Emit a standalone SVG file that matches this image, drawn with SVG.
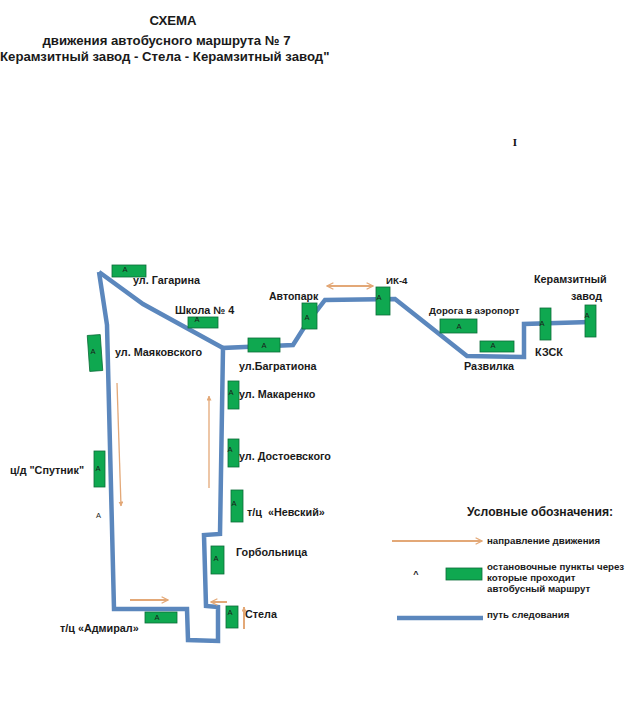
<svg xmlns="http://www.w3.org/2000/svg" width="635" height="703" viewBox="0 0 635 703">
<style>
text{font-family:"Liberation Sans",Arial,sans-serif;fill:#1a1a1a}
.t{font-weight:bold;font-size:13.2px}
.h{font-weight:bold;font-size:12.2px}
.l{font-weight:bold;font-size:10.8px}
.s{font-weight:bold;font-size:9.7px}
.a{font-size:7.500px;text-anchor:middle;fill:#1a1a1a}
.g{fill:#0fa850;stroke:#0b6b38;stroke-width:.8}
.r{fill:none;stroke:#5b87bd;stroke-width:4.500;stroke-linejoin:miter}
.o{fill:none;stroke:#e3a877;stroke-width:2}
.ot{fill:none;stroke:#e3a877;stroke-width:1.300}
</style>
<defs>
<marker id="h" viewBox="0 0 10 10" refX="9" refY="5" markerWidth="8" markerHeight="8" markerUnits="userSpaceOnUse" orient="auto-start-reverse"><path d="M1 1L9 5L1 9" fill="none" stroke="#e3a877" stroke-width="1.6"/></marker>
<marker id="n" viewBox="0 0 10 10" refX="9" refY="5" markerWidth="5" markerHeight="5" markerUnits="userSpaceOnUse" orient="auto"><path d="M0 0L10 5L0 10Z" fill="#e3a877"/></marker>
</defs>
<rect width="635" height="703" fill="#fff"/>
<g id="title">
<text class="t" x="173" y="25" text-anchor="middle">СХЕМА</text>
<text class="t" x="166.500" y="45" text-anchor="middle">движения автобусного маршрута № 7</text>
<text class="t" x="0" y="61">Керамзитный завод - Стела - Керамзитный завод"</text>
<text x="515" y="146" style="font-family:'Liberation Serif',serif;font-size:11px;font-weight:bold;fill:#111" text-anchor="middle">I</text>
</g>
<g id="connectors">
<path class="r" d="M99 272L107 325L114 609H187L188 640L218 641V607L206 606L204 535L220 534L223 348L293 345L305 326L325 300L395 299L467 356L524 357V324L590 322"/>
<path class="r" d="M99 272L143 304L223 348"/>
<path class="ot" marker-end="url(#n)" d="M117 383L121 506"/>
<path class="ot" marker-end="url(#n)" d="M209 488V396"/>
<path class="o" marker-end="url(#h)" d="M130 600H168"/>
<path class="o" marker-end="url(#h)" d="M227 602H211"/>
<path class="o" marker-end="url(#n)" d="M244 629V607"/>
<path class="o" marker-start="url(#h)" marker-end="url(#h)" d="M327 286H373"/>
</g>
<g id="stop-gagarina"><rect class="g" x="112" y="265" width="34" height="12"/><text class="a" x="125" y="272">A</text><text class="l" x="133" y="284">ул. Гагарина</text></g>
<g id="stop-school"><rect class="g" x="188" y="317" width="30" height="11"/><text class="a" x="197" y="322">A</text><text class="l" x="175" y="314">Школа № 4</text></g>
<g id="stop-mayakovsky"><rect class="g" x="88.500" y="335" width="13" height="36" transform="rotate(-4 95 353)"/><text class="a" x="93" y="354">A</text><text class="l" x="115" y="356">ул. Маяковского</text></g>
<g id="stop-bagrationa"><rect class="g" x="248" y="338" width="32" height="14"/><text class="a" x="264" y="348">A</text><text class="l" x="239" y="370">ул.Багратиона</text></g>
<g id="stop-makarenko"><rect class="g" x="228" y="381" width="11" height="28"/><text class="a" x="231" y="395">A</text><text class="l" x="239" y="398">ул. Макаренко</text></g>
<g id="stop-avtopark"><rect class="g" x="302" y="303" width="15" height="26"/><text class="a" x="307" y="320">A</text><text class="l" x="269" y="300" style="font-size:10.500px">Автопарк</text></g>
<g id="stop-ik4"><rect class="g" x="376" y="287" width="14" height="28"/><text class="a" x="379" y="300">A</text><text class="s" x="386" y="284">ИК-4</text></g>
<g id="stop-airport"><rect class="g" x="440" y="319" width="37" height="14"/><text class="a" x="459" y="329">A</text><text class="s" x="429" y="314">Дорога в аэропорт</text></g>
<g id="stop-razvilka"><rect class="g" x="480" y="341" width="34" height="11"/><text class="a" x="493" y="348">A</text><text class="l" x="464" y="370">Развилка</text></g>
<g id="stop-kzsk"><rect class="g" x="540" y="308" width="11" height="32"/><text class="a" x="542" y="326">A</text><text class="l" x="535" y="356">КЗСК</text></g>
<g id="stop-zavod"><rect class="g" x="585" y="305" width="11" height="32"/><text class="a" x="587" y="318">A</text><text class="l" x="534" y="283">Керамзитный</text><text class="l" x="571" y="300">завод</text></g>
<g id="stop-sputnik"><rect class="g" x="94" y="451" width="11" height="36"/><text class="a" x="98" y="471">A</text><text class="l" x="10" y="474">ц/д "Спутник"</text><text class="a" x="98.500" y="518">A</text></g>
<g id="stop-dostoevsky"><rect class="g" x="228" y="439" width="11" height="28"/><text class="a" x="230" y="452">A</text><text class="l" x="239" y="460">ул. Достоевского</text></g>
<g id="stop-nevsky"><rect class="g" x="231" y="490" width="12" height="32"/><text class="a" x="234" y="506">A</text><text class="l" x="247" y="516">т/ц &#160;«Невский»</text></g>
<g id="stop-gorbolnitsa"><rect class="g" x="211" y="546" width="13" height="28"/><text class="a" x="216" y="561">A</text><text class="l" x="236" y="556">Горбольница</text></g>
<g id="stop-stela"><rect class="g" x="226" y="606" width="12" height="22"/><text class="a" x="230" y="615">A</text><text class="l" x="245" y="618">Стела</text></g>
<g id="stop-admiral"><rect class="g" x="145" y="612" width="32" height="11"/><text class="a" x="157" y="620">A</text><text class="l" x="60" y="632">т/ц «Адмирал»</text></g>
<g id="legend">
<text class="h" x="467" y="516">Условные обозначения:</text>
<path class="o" marker-end="url(#h)" d="M392 541H482"/>
<text class="s" x="487" y="544">направление движения</text>
<text x="416" y="577" style="font-size:9px;font-weight:bold" text-anchor="middle">^</text>
<rect class="g" x="446" y="568" width="36" height="12"/>
<text class="s" x="487" y="570">остановочные пункты через</text>
<text class="s" x="487" y="581">которые проходит</text>
<text class="s" x="487" y="592">автобусный маршрут</text>
<path class="r" d="M397 618H483"/>
<text class="s" x="487" y="618">путь следования</text>
</g>
</svg>
